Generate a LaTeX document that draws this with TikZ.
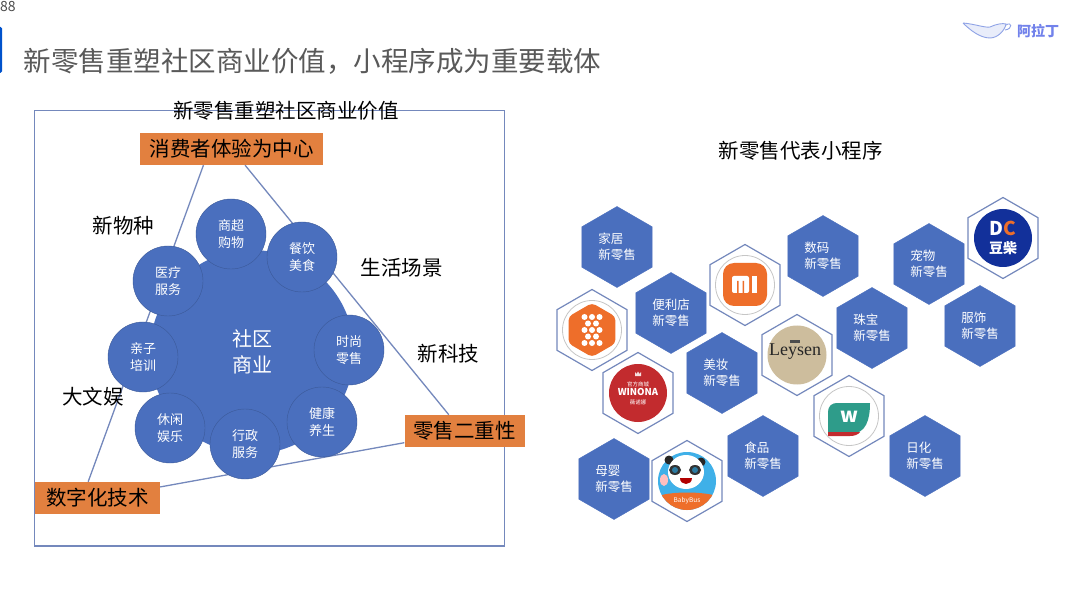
\documentclass[tikz,border=0pt]{standalone}
\usepackage{fontspec}
\setmainfont{Noto Sans CJK SC}
\newfontfamily\logofont{Liberation Serif}
\usetikzlibrary{shapes.geometric}
\definecolor{hexblue}{HTML}{4A6FBE}
\definecolor{framecol}{HTML}{7488BC}
\definecolor{boxorange}{HTML}{E2803F}
\definecolor{logoorange}{HTML}{EE6E2A}
\definecolor{lampblue}{HTML}{8FA3E6}
\definecolor{leybeige}{HTML}{CDBD9D}
\definecolor{winred}{HTML}{C22B2E}
\definecolor{watgreen}{HTML}{2E9C8A}
\definecolor{busblue}{HTML}{3FB0E8}
\definecolor{dcblue}{HTML}{12309A}
\tikzset{
    base/.style={inner sep=0pt, align=center},
    label/.style={base, font=\fontsize{20.5}{24}\selectfont},
    keybox/.style={base, fill=boxorange, font=\fontsize{20.5}{24}\selectfont, minimum height=32pt},
    sat/.style={base, circle, draw=hexblue!80!black, fill=hexblue, text=white, minimum size=70pt, font=\fontsize{13}{17.5}\selectfont},
    hexfull/.style={base, regular polygon, regular polygon sides=6, shape border rotate=30, minimum size=81pt, fill=hexblue, draw=hexblue, text=white, align=left, font=\fontsize{12.5}{16}\selectfont},
    hexline/.style={regular polygon, regular polygon sides=6, shape border rotate=30, minimum size=81pt, draw=framecol, line width=1.2pt, fill=white, inner sep=0pt},
    ring/.style={circle, draw=gray!45, line width=0.8pt, minimum size=59pt, inner sep=0pt},
}
\begin{document}
\begin{tikzpicture}[x=1pt, y=-1pt]
    \clip (0,0) rectangle (1080,596);
    \fill[white] (0,0) rectangle (1080,596);

    % header
    \node (pagenum) at (8,6.5) [base, text=black!70, font=\fontsize{14}{16}\selectfont] {88};
    \fill[blue!60!cyan!80!black, rounded corners=1.5pt] (-3,27) rectangle (2,73);
    \node (title) at (312.5,61) [base, text=black!65, font=\fontsize{27.5}{32}\selectfont] {新零售重塑社区商业价值，小程序成为重要载体};
    \draw[lampblue, line width=0.9pt, fill=lampblue!20] (963,23) .. controls (975,24) and (985,28) .. (990,27) .. controls (996,24) and (1003,23) .. (1006,24) .. controls (1005,30) and (998,38) .. (990,38) .. controls (980,38) and (970,30) .. (963,23);
    \draw[lampblue, line width=0.9pt] (1006,25) .. controls (1012,21) and (1013,29) .. (1005,30);
    \node (brand) at (1038,31.5) [base, text=lampblue!80!blue, font=\fontsize{14}{16}\selectfont\bfseries] {阿拉丁};

    % left panel
    \draw[framecol, line width=1.3pt] (34.5,110.5) rectangle (504.5,546);
    \node (lefttitle) at (286,111) [label] {新零售重塑社区商业价值};
    \node (exp) at (231.5,149) [keybox, minimum width=183pt] {消费者体验为中心};
    \node (ret) at (464.5,431) [keybox, minimum width=120pt] {零售二重性};
    \node (dig) at (97.5,498) [keybox, minimum width=125pt] {数字化技术};

    \draw[framecol, line width=1.3pt] (exp.-150) -- (dig.120);
    \draw[framecol, line width=1.3pt] (exp.-50) -- (ret.134);
    \draw[framecol, line width=1.3pt] (dig.10) -- (ret.191);

    \node (hub) at (252,352) [base, circle, fill=hexblue, text=white, minimum size=204pt, font=\fontsize{20}{26}\selectfont] {社区\\商业};
    \node (shop) at (231,234) [sat] {商超\\购物};
    \node (food) at (302,257) [sat] {餐饮\\美食};
    \node (med) at (168,281) [sat] {医疗\\服务};
    \node (fashion) at (349,350) [sat] {时尚\\零售};
    \node (kids) at (143,357) [sat] {亲子\\培训};
    \node (leisure) at (170,428) [sat] {休闲\\娱乐};
    \node (admin) at (245,444) [sat] {行政\\服务};
    \node (health) at (322,422) [sat] {健康\\养生};

    \node (species) at (123.5,226) [label] {新物种};
    \node (scene) at (401.5,268) [label] {生活场景};
    \node (tech) at (448.5,354) [label] {新科技};
    \node (media) at (93,397) [label] {大文娱};

    % right panel
    \node (righttitle) at (800.5,151) [label] {新零售代表小程序};

    \node (home) at (617,247) [hexfull] {家居\\新零售};
    \node (conv) at (671,313) [hexfull] {便利店\\新零售};
    \node (beauty) at (722,373) [hexfull] {美妆\\新零售};
    \node (digi) at (823,256) [hexfull] {数码\\新零售};
    \node (pet) at (929,264) [hexfull] {宠物\\新零售};
    \node (jewel) at (872,328) [hexfull] {珠宝\\新零售};
    \node (dress) at (980,326) [hexfull] {服饰\\新零售};
    \node (snack) at (763,456) [hexfull] {食品\\新零售};
    \node (baby) at (614,479) [hexfull] {母婴\\新零售};
    \node (daily) at (925,456) [hexfull] {日化\\新零售};

    \node (milogo) at (745,285) [hexline] {};
    \node (eightlogo) at (592,330) [hexline] {};
    \node (leylogo) at (797,355) [hexline] {};
    \node (winlogo) at (638,393) [hexline] {};
    \node (watlogo) at (849,416) [hexline] {};
    \node (buslogo) at (687,481) [hexline] {};
    \node (dclogo) at (1003,238) [hexline] {};

    % mi
    \node (miring) at (milogo) [ring] {};
    \fill[logoorange, rounded corners=11pt] (723,263) rectangle (767,306);
    \fill[white, rounded corners=2pt] (732,276) rectangle (749,293);
    \fill[logoorange] (737,281) rectangle (738.5,293) (742.5,281) rectangle (744,293);
    \fill[white] (752,276) rectangle (757,293);

    % eight
    \node (eightring) at (eightlogo) [ring] {};
    \node (eightbadge) at (eightlogo) [regular polygon, regular polygon sides=6, shape border rotate=30, minimum size=54pt, fill=logoorange, rounded corners=4pt, inner sep=0pt] {};
    \foreach \dx/\dy in {-7.5/-13,0/-13,7.5/-13,-4/-6.5,4/-6.5,-7.5/0,0/0,7.5/0,-4/6.5,4/6.5,-7.5/13,0/13,7.5/13}
        \fill[white] (eightlogo.center) ++(\dx,\dy) circle (3pt);

    % leysen
    \node (leycircle) at (leylogo) [circle, fill=leybeige, minimum size=59pt, inner sep=0pt] {};
    \node (leytext) at (795,352) [base, text=black!85, font=\fontsize{18}{19}\selectfont\logofont] {Leysen};
    \fill[black!70] (790,340) rectangle (800,343);

    % winona
    \node (wincircle) at (winlogo) [circle, fill=winred, text=white, minimum size=58pt, inner sep=0pt, align=center, font=\fontsize{5.5}{10}\selectfont] {官方商城\\[-1pt]{\fontsize{9.5}{10}\selectfont\bfseries WINONA}\\[-1pt]薇诺娜};
    \fill[white!85!winred] (635,376) -- (635,372) -- (636.5,374) -- (638,371.5) -- (639.5,374) -- (641,372) -- (641,376) -- cycle;

    % watsons
    \node (watring) at (watlogo) [ring] {};
    \fill[watgreen] (837,403) -- (870,403) .. controls (870,420) and (866,434) .. (850,434) -- (828,434) -- (828,412) .. controls (828,406) and (832,403) .. (837,403) -- cycle;
    \fill[winred] (828,432) -- (860,432) .. controls (858,435) and (854,436) .. (850,436) -- (828,436) -- cycle;
    \node (wattext) at (849,417) [base, text=white, font=\fontsize{20}{22}\selectfont\bfseries] {w};

    % babybus
    \node (buscircle) at (buslogo) [circle, fill=busblue, minimum size=58pt, inner sep=0pt] {};
    \begin{scope}
        \clip (buslogo.center) circle (29pt);
        \fill[logoorange] (655,497) .. controls (670,491) and (704,491) .. (720,497) -- (720,515) -- (655,515) -- cycle;
    \end{scope}
    \node (bustext) at (687,501) [base, text=white, font=\fontsize{6.5}{8}\selectfont] {BabyBus};
    \fill[black!85] (669,460) circle (4.5pt) (701,462) circle (4.5pt);
    \fill[white] (686,472) ellipse (18pt and 17pt);
    \fill[black!80] (675,470) ellipse (6pt and 5pt) (695,470) ellipse (6pt and 5pt);
    \fill[busblue!70!black] (675,470) circle (3pt) (695,470) circle (3pt);
    \fill[red!70!black] (680,478) -- (692,478) .. controls (692,486) and (680,486) .. (680,478) -- cycle;
    \fill[red!25!white] (664,480) ellipse (4pt and 6pt);

    % dc
    \node (dccircle) at (dclogo) [circle, fill=dcblue, minimum size=58pt, inner sep=0pt] {};
    \node (dcmark) at (1003,228) [base, text=white, font=\fontsize{19}{20}\selectfont\bfseries] {D\textcolor{logoorange}{C}};
    \node (dcname) at (1003,248) [base, text=white, font=\fontsize{14}{15}\selectfont\bfseries] {豆柴};
\end{tikzpicture}
\end{document}
